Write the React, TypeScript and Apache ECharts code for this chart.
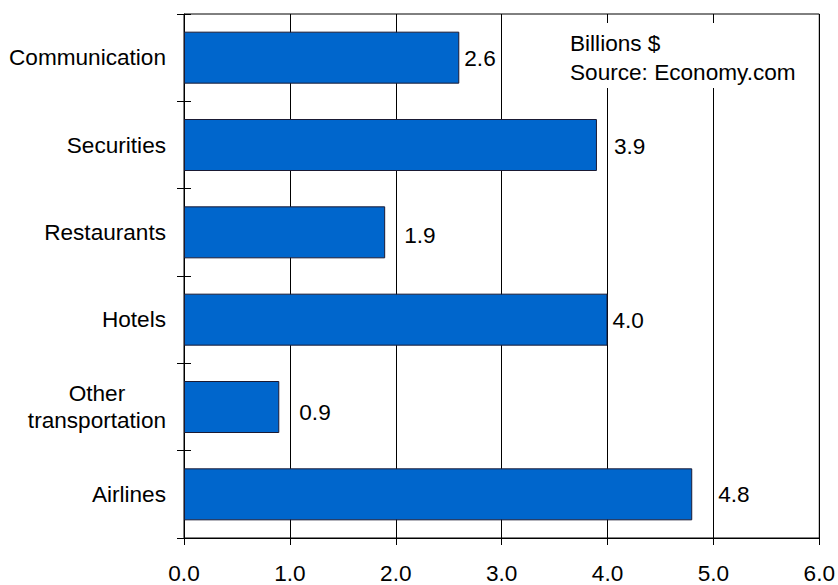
import React, { useEffect, useRef } from "react";
import * as echarts from "echarts";

const categories = ["Communication", "Securities", "Restaurants", "Hotels", "Other transportation", "Airlines"];
const values = [2.6, 3.9, 1.9, 4.0, 0.9, 4.8];
const labelDistances = [5, 17, 19, 5, 20, 26];
const labelOffsetsY = [1, 1, 3, 1, 5, 0];
const xTicks = [0, 1, 2, 3, 4, 5, 6];
const noteLines = ["Billions $", "Source: Economy.com"];

const FONT = "'Liberation Sans', Arial, sans-serif";
const FS = 22.6;

export default function App() {
  const ref = useRef<HTMLDivElement>(null);
  useEffect(() => {
    if (!ref.current) return;
    const chart = echarts.init(ref.current, undefined, { renderer: "svg" });
    chart.setOption({
      animation: false,
      backgroundColor: "#fff",
      textStyle: { fontFamily: FONT },
      grid: {
        left: 184,
        right: 16,
        top: 14,
        bottom: 43,
        show: true,
        borderColor: "#000",
        borderWidth: 1,
        backgroundColor: "transparent",
      },
      xAxis: [
        {
          type: "value",
          min: xTicks[0],
          max: xTicks[xTicks.length - 1],
          interval: 1,
          axisLine: { show: true, lineStyle: { color: "#000", width: 1 } },
          axisTick: { show: true, length: 7, lineStyle: { color: "#000" } },
          splitLine: { show: true, lineStyle: { color: "#000", width: 1 } },
          axisLabel: {
            margin: 24,
            fontSize: FS,
            color: "#000",
            fontFamily: FONT,
            formatter: (v: number) => v.toFixed(1),
          },
        },
        {
          type: "value",
          position: "bottom",
          min: xTicks[0],
          max: xTicks[xTicks.length - 1],
          interval: 1,
          axisLine: { show: false },
          axisTick: { show: true, inside: true, length: 16, lineStyle: { color: "#000" } },
          splitLine: { show: false },
          axisLabel: { show: false },
        },
      ],
      yAxis: [
        {
          type: "category",
          data: categories,
          inverse: true,
          axisLine: { show: true, lineStyle: { color: "#000", width: 1 } },
          axisTick: { show: true, length: 7, lineStyle: { color: "#000" } },
          splitLine: { show: false },
          axisLabel: {
            margin: 18,
            fontSize: FS,
            color: "#000",
            fontFamily: FONT,
            formatter: (v: string) =>
              v === "Other transportation" ? "{c|Other}\n{c|transportation}" : v,
            rich: {
              c: { align: "center", fontSize: FS, lineHeight: 27, fontFamily: FONT, color: "#000" },
            },
          },
        },
        {
          type: "category",
          data: categories,
          inverse: true,
          position: "left",
          axisLine: { show: false },
          axisTick: { show: true, inside: true, length: 7, lineStyle: { color: "#000" } },
          axisLabel: { show: false },
          splitLine: { show: false },
        },
      ],
      series: [
        {
          type: "bar",
          xAxisIndex: 0,
          yAxisIndex: 0,
          barWidth: 52,
          itemStyle: { color: "#0066CC", borderColor: "#1a1a33", borderWidth: 1 },
          data: values.map((v, i) => ({
            value: v,
            label: {
              show: true,
              position: "right",
              distance: labelDistances[i],
              offset: [0, labelOffsetsY[i]],
              fontSize: FS,
              color: "#000",
              fontFamily: FONT,
              formatter: (p: any) => Number(p.value).toFixed(1),
            },
          })),
        },
      ],
      graphic: [
        {
          type: "rect",
          z: 100,
          shape: { x: 566, y: 23, width: 240, height: 65 },
          style: { fill: "#fff" },
        },
        {
          type: "text",
          z: 101,
          left: 570,
          top: 29,
          style: {
            text: noteLines.join("\n"),
            fontSize: FS,
            lineHeight: 29,
            fill: "#000",
            fontFamily: FONT,
          },
        },
      ],
    });
    return () => chart.dispose();
  }, []);
  return <div ref={ref} style={{ width: 838, height: 585, position: "absolute", left: 0, top: 0 }} />;
}
